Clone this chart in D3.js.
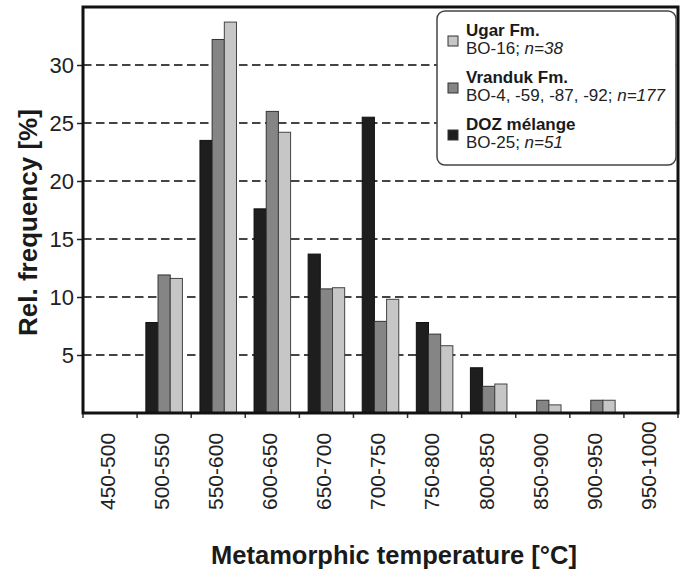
<!DOCTYPE html>
<html>
<head>
<meta charset="utf-8">
<script src="https://cdn.jsdelivr.net/npm/d3@7"></script>
<style>
  html, body { margin: 0; padding: 0; background: #fff; }
  svg { display: block; font-family: "Liberation Sans", Arial, Helvetica, sans-serif; }
</style>
</head>
<body>
<svg id="chart" width="688" height="572"></svg>
<script>
// Temperature classes (°C)
const categories = ["450-500", "500-550", "550-600", "600-650", "650-700", "700-750",
                    "750-800", "800-850", "850-900", "900-950", "950-1000"];

// Relative frequencies (%) per unit
const dozMelange = [0, 7.8, 23.5, 17.6, 13.7, 25.5, 7.8, 3.9, 0, 0, 0];
const vrandukFm  = [0, 11.9, 32.2, 26.0, 10.7, 7.9, 6.8, 2.3, 1.1, 1.1, 0];
const ugarFm     = [0, 11.6, 33.7, 24.2, 10.8, 9.8, 5.8, 2.5, 0.7, 1.1, 0];

const yTicks = [5, 10, 15, 20, 25, 30];

// Series, in bar order within each class
const series = [
  { key: "doz",     name: "DOZ mélange", sub: "BO-25; ",              n: "n=51",  values: dozMelange, fill: "#1e1e1e", stroke: "#111" },
  { key: "vranduk", name: "Vranduk Fm.", sub: "BO-4, -59, -87, -92; ", n: "n=177", values: vrandukFm,  fill: "#858585", stroke: "#333" },
  { key: "ugar",    name: "Ugar Fm.",    sub: "BO-16; ",              n: "n=38",  values: ugarFm,     fill: "#c6c6c6", stroke: "#444" }
];

const W = 688, H = 572;
const margin = { top: 7, right: 10, bottom: 159, left: 83 };
const svg = d3.select("#chart");

const x0 = d3.scaleBand().domain(categories).range([margin.left, W - margin.right]).padding(0);
const x1 = d3.scaleBand().domain(series.map(s => s.key))
  .range([0, x0.bandwidth()]).paddingInner(0).paddingOuter(0.72);
const y = d3.scaleLinear().domain([0, 35]).range([H - margin.bottom, margin.top]);

// Dashed horizontal grid
svg.append("g")
  .selectAll("line").data(yTicks).join("line")
  .attr("x1", margin.left).attr("x2", W - margin.right)
  .attr("y1", d => y(d)).attr("y2", d => y(d))
  .attr("stroke", "#444").attr("stroke-width", 2)
  .attr("stroke-dasharray", "8.5,4.5");

// Bars
const groups = svg.append("g").selectAll("g").data(categories).join("g")
  .attr("transform", d => `translate(${x0(d)},0)`);
groups.selectAll("rect")
  .data((c, i) => series.map(s => ({ s, v: s.values[i] })).filter(d => d.v > 0))
  .join("rect")
  .attr("x", d => x1(d.s.key))
  .attr("width", x1.bandwidth())
  .attr("y", d => y(d.v))
  .attr("height", d => y(0) - y(d.v))
  .attr("fill", d => d.s.fill)
  .attr("stroke", d => d.s.stroke)
  .attr("stroke-width", 1);

// Axes
const yAxis = d3.axisLeft(y).tickValues(yTicks).tickSize(6).tickPadding(3).tickFormat(d3.format("d"));
const gy = svg.append("g").attr("transform", `translate(${margin.left},0)`).call(yAxis);
gy.select(".domain").remove();
gy.selectAll(".tick line").attr("stroke", "#222").attr("stroke-width", 1.5);
gy.selectAll(".tick text").attr("font-size", 22).attr("fill", "#222")
  .attr("font-family", "'Liberation Sans', Arial, sans-serif");

// Boundary ticks along the x axis
const bounds = categories.map(c => x0(c)).concat([W - margin.right]);
svg.append("g").selectAll("line").data(bounds).join("line")
  .attr("x1", d => d).attr("x2", d => d)
  .attr("y1", y(0)).attr("y2", y(0) + 5)
  .attr("stroke", "#333").attr("stroke-width", 1.5);

// Class labels (rotated, bottom-anchored)
svg.append("g").selectAll("text").data(categories).join("text")
  .attr("transform", d => `translate(${x0(d) + x0.bandwidth() / 2 - 2.5},510) rotate(-90)`)
  .attr("dy", "0.35em")
  .attr("text-anchor", "start")
  .attr("font-size", 21).attr("fill", "#222")
  .text(d => d);

// Plot frame
svg.append("rect")
  .attr("x", margin.left).attr("y", margin.top)
  .attr("width", W - margin.left - margin.right)
  .attr("height", H - margin.top - margin.bottom)
  .attr("fill", "none").attr("stroke", "#111").attr("stroke-width", 3);

// Axis titles
svg.append("text")
  .attr("transform", "translate(37,336) rotate(-90)")
  .attr("text-anchor", "start")
  .attr("font-size", 26).attr("font-weight", "bold").attr("fill", "#1a1a1a")
  .text("Rel. frequency [%]");

svg.append("text")
  .attr("x", 394).attr("y", 564)
  .attr("text-anchor", "middle")
  .attr("font-size", 25.5).attr("font-weight", "bold").attr("fill", "#1a1a1a")
  .text("Metamorphic temperature [°C]");

// Legend
const legend = svg.append("g");
legend.append("rect")
  .attr("x", 437).attr("y", 11).attr("width", 239).attr("height", 154)
  .attr("rx", 8).attr("ry", 8)
  .attr("fill", "#fff").attr("stroke", "#444").attr("stroke-width", 1.5);

const legendOrder = [series[2], series[1], series[0]];
const items = legend.selectAll("g.item").data(legendOrder).join("g")
  .attr("class", "item")
  .attr("transform", (d, i) => `translate(0,${36 + i * 47})`);
items.append("rect")
  .attr("x", 448).attr("y", 0).attr("width", 10).attr("height", 10)
  .attr("fill", d => d.fill).attr("stroke", "#333").attr("stroke-width", 1);
items.append("text")
  .attr("x", 466).attr("y", 0)
  .attr("font-size", 17).attr("font-weight", "bold").attr("fill", "#1a1a1a")
  .text(d => d.name);
const sub = items.append("text")
  .attr("x", 466).attr("y", 18)
  .attr("font-size", 17).attr("fill", "#222");
sub.append("tspan").text(d => d.sub);
sub.append("tspan").attr("font-style", "italic").text(d => d.n);
</script>
</body>
</html>
